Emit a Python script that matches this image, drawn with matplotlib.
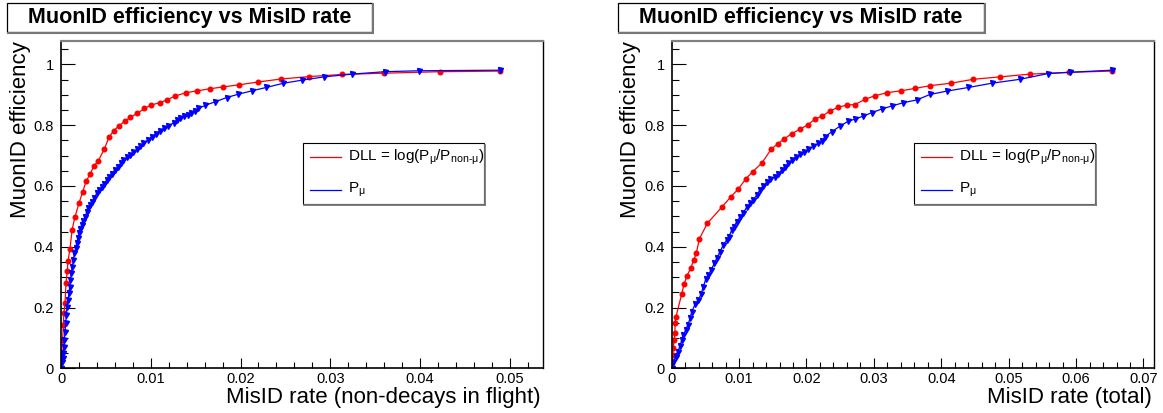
import matplotlib
matplotlib.use("Agg")
import matplotlib.pyplot as plt
from matplotlib.lines import Line2D
from matplotlib.patches import Rectangle
from matplotlib.ticker import MultipleLocator, FuncFormatter

plt.rcParams['font.family'] = ['Liberation Sans', 'DejaVu Sans']
plt.rcParams['mathtext.fontset'] = 'custom'
plt.rcParams['mathtext.rm'] = 'Liberation Sans'
plt.rcParams['mathtext.it'] = 'Liberation Sans'
plt.rcParams['mathtext.default'] = 'regular'

W, H = 1163, 413

# ---- data: non-decays in flight (left panel)
dll_nd_x = [0.0, 0.00008, 0.00019, 0.00026, 0.00033, 0.00045, 0.00056, 0.0007, 0.00078,
            0.001, 0.00123, 0.00156, 0.002, 0.00242, 0.0028, 0.00323, 0.00365, 0.00416,
            0.00483, 0.00535, 0.00587, 0.00647, 0.0071, 0.00773, 0.0085, 0.0093, 0.01,
            0.011, 0.0118, 0.01271, 0.01394, 0.0152, 0.01661, 0.01809, 0.01988, 0.02193,
            0.02453, 0.02768, 0.03133, 0.03593, 0.04225, 0.04894]
dll_nd_y = [0.0, 0.055, 0.093, 0.142, 0.183, 0.214, 0.282, 0.321, 0.354,
            0.393, 0.455, 0.499, 0.543, 0.581, 0.616, 0.638, 0.665, 0.683,
            0.722, 0.76, 0.782, 0.798, 0.813, 0.826, 0.839, 0.855, 0.866,
            0.874, 0.883, 0.896, 0.907, 0.913, 0.92, 0.926, 0.933, 0.942,
            0.952, 0.96, 0.967, 0.971, 0.976, 0.978]

pmu_nd_x = [0.0, 0.0001, 0.0002, 0.00026, 0.00032, 0.00037, 0.00045, 0.00052, 0.0006,
            0.00067, 0.00078, 0.00089, 0.00097, 0.00104, 0.00115, 0.00126, 0.00138,
            0.00149, 0.00162, 0.00175, 0.00188, 0.002, 0.00215, 0.00231, 0.0025,
            0.00268, 0.00286, 0.00305, 0.00327, 0.00349, 0.00373, 0.00398, 0.00426,
            0.00454, 0.00482, 0.0051, 0.00537, 0.00565, 0.00598, 0.00632, 0.00663,
            0.00695, 0.00732, 0.00769, 0.00806, 0.00844, 0.00881, 0.00918, 0.00965,
            0.01011, 0.01055, 0.011, 0.01148, 0.01196, 0.01255, 0.0129, 0.0133,
            0.01371, 0.0141, 0.01446, 0.0149, 0.01531, 0.01605, 0.01717, 0.01847,
            0.01977, 0.02126, 0.02285, 0.02478, 0.02683, 0.02932, 0.03241, 0.03612,
            0.03983, 0.04894]
pmu_nd_y = [0.0, 0.02, 0.035, 0.049, 0.07, 0.093, 0.12, 0.148, 0.175,
            0.203, 0.225, 0.247, 0.268, 0.29, 0.312, 0.334, 0.356,
            0.378, 0.395, 0.411, 0.428, 0.444, 0.458, 0.471, 0.485,
            0.499, 0.513, 0.526, 0.537, 0.548, 0.562, 0.576, 0.587,
            0.597, 0.608, 0.619, 0.63, 0.641, 0.652, 0.663, 0.674,
            0.685, 0.694, 0.702, 0.711, 0.72, 0.73, 0.74, 0.751,
            0.762, 0.772, 0.782, 0.79, 0.797, 0.808, 0.817, 0.823,
            0.83, 0.835, 0.841, 0.848, 0.855, 0.865, 0.877, 0.891,
            0.902, 0.913, 0.924, 0.938, 0.948, 0.959, 0.968, 0.976,
            0.979, 0.981]

# ---- data: total (right panel)
dll_tot_x = [0.0, 0.00009, 0.00012, 0.00024, 0.00034, 0.00049, 0.0005, 0.00064, 0.00148,
             0.00182, 0.00227, 0.00286, 0.00326, 0.00365, 0.00409, 0.00528, 0.00742,
             0.0088, 0.00988, 0.01102, 0.01202, 0.0134, 0.01473, 0.01573, 0.01671,
             0.0178, 0.01904, 0.02018, 0.02126, 0.02234, 0.02349, 0.02472, 0.02596,
             0.0272, 0.02868, 0.03016, 0.03199, 0.03398, 0.0361, 0.03832, 0.04139,
             0.04475, 0.04871, 0.05316, 0.05899, 0.06528]
dll_tot_y = [0.0, 0.018, 0.044, 0.066, 0.093, 0.117, 0.15, 0.17, 0.244,
             0.276, 0.305, 0.331, 0.356, 0.378, 0.425, 0.477, 0.53,
             0.565, 0.59, 0.624, 0.647, 0.676, 0.72, 0.739, 0.755,
             0.772, 0.787, 0.801, 0.82, 0.83, 0.847, 0.859, 0.866,
             0.868, 0.885, 0.897, 0.907, 0.913, 0.921, 0.93, 0.938,
             0.951, 0.959, 0.968, 0.974, 0.978]

pmu_tot_x = [0.0, 0.00024, 0.00059, 0.00089, 0.00123, 0.00148, 0.00172, 0.00208, 0.00237,
             0.00272, 0.00297, 0.00346, 0.00395, 0.00435, 0.00469, 0.00504, 0.00543,
             0.00583, 0.00632, 0.00668, 0.00717, 0.00766, 0.00816, 0.0085, 0.0089,
             0.00924, 0.00964, 0.01013, 0.01062, 0.01113, 0.01162, 0.01211, 0.01261,
             0.0131, 0.01359, 0.0141, 0.01458, 0.01533, 0.01582, 0.01632, 0.01681,
             0.0173, 0.0178, 0.0184, 0.01904, 0.01967, 0.02027, 0.02101, 0.02175,
             0.02234, 0.02274, 0.02374, 0.02497, 0.0262, 0.0272, 0.02843, 0.02967,
             0.03116, 0.03264, 0.03436, 0.03635, 0.03832, 0.0408, 0.04401, 0.04748,
             0.05168, 0.05588, 0.0591, 0.06528]
pmu_tot_y = [0.0, 0.022, 0.038, 0.055, 0.073, 0.093, 0.11, 0.126, 0.142,
             0.164, 0.186, 0.21, 0.225, 0.244, 0.268, 0.293, 0.307,
             0.323, 0.345, 0.362, 0.384, 0.406, 0.422, 0.433, 0.455,
             0.466, 0.482, 0.497, 0.512, 0.53, 0.543, 0.554, 0.57,
             0.587, 0.601, 0.612, 0.622, 0.63, 0.641, 0.652, 0.663,
             0.674, 0.685, 0.696, 0.704, 0.713, 0.721, 0.731, 0.74,
             0.749, 0.762, 0.778, 0.797, 0.813, 0.82, 0.83, 0.841,
             0.853, 0.863, 0.874, 0.883, 0.901, 0.912, 0.924, 0.938,
             0.951, 0.97, 0.974, 0.981]

title = "MuonID efficiency vs MisID rate"
ylabel = "MuonID efficiency"
xlabels = ["MisID rate (non-decays in flight)", "MisID rate (total)"]
leg_labels = [r"DLL = log(P$_{μ}$/P$_{non\text{-}μ}$)", r"P$_{μ}$"]


def fx(px):
    return px / W


def fy(py):
    return 1 - py / H


fig = plt.figure(figsize=(W / 100, H / 100), dpi=100)


def title_box(x0, x1):
    fig.add_artist(Rectangle((fx(x0), fy(32)), fx(x1) - fx(x0), fy(3) - fy(32),
                             transform=fig.transFigure, facecolor='white',
                             edgecolor='black', lw=0.9))
    fig.add_artist(Line2D([fx(x0 + 1), fx(x1)], [fy(32.5), fy(32.5)],
                          transform=fig.transFigure, color='#777777', lw=1.5))
    fig.add_artist(Line2D([fx(x1 + 0.5), fx(x1 + 0.5)], [fy(32.5), fy(4)],
                          transform=fig.transFigure, color='#777777', lw=1.5))
    fig.text(fx((x0 + x1) / 2), fy(18), title, ha='center', va='center',
             fontsize=15.5, fontweight='bold')


def legend_box(x0, x1):
    y0, y1 = 143.5, 204.5
    fig.add_artist(Rectangle((fx(x0), fy(y1)), fx(x1) - fx(x0), fy(y0) - fy(y1),
                             transform=fig.transFigure, facecolor='white',
                             edgecolor='black', lw=0.8, zorder=5))
    fig.add_artist(Line2D([fx(x0 + 1), fx(x1 + 1)], [fy(y1 + 0.8), fy(y1 + 0.8)],
                          transform=fig.transFigure, color='#777777', lw=1.3, zorder=5))
    fig.add_artist(Line2D([fx(x1 + 0.8), fx(x1 + 0.8)], [fy(y1 + 0.8), fy(y0 + 1)],
                          transform=fig.transFigure, color='#777777', lw=1.3, zorder=5))
    for lab, col, yy in zip(leg_labels, ['red', 'blue'], [157, 189.5]):
        fig.add_artist(Line2D([fx(x0 + 7), fx(x0 + 38)], [fy(yy), fy(yy)],
                              transform=fig.transFigure, color=col, lw=0.9, zorder=6))
        fig.text(fx(x0 + 45), fy(yy), lab, ha='left', va='center', fontsize=11, zorder=6)


def panel(rect, dx, dy, px, py, xmax, xlab, ylab_x):
    ax = fig.add_axes(rect)
    ax.plot(dx, dy, color='red', lw=0.9, marker='o', ms=3.3, mec='red', mfc='red')
    ax.plot(px, py, color='blue', lw=0.9, marker='v', ms=3.6, mec='blue', mfc='blue')
    ax.set_xlim(0, xmax)
    ax.set_ylim(0, 1.077)
    ax.xaxis.set_major_locator(MultipleLocator(0.01))
    ax.xaxis.set_minor_locator(MultipleLocator(0.002))
    ax.yaxis.set_major_locator(MultipleLocator(0.2))
    ax.yaxis.set_minor_locator(MultipleLocator(0.05))
    fmt = FuncFormatter(lambda v, p: '%g' % round(v, 4))
    ax.xaxis.set_major_formatter(fmt)
    ax.yaxis.set_major_formatter(fmt)
    ax.tick_params(axis='both', which='both', direction='in', width=0.8,
                   labelsize=10.5, top=False, right=False)
    ax.tick_params(axis='y', which='major', length=10, pad=5)
    ax.tick_params(axis='y', which='minor', length=5)
    ax.tick_params(axis='x', which='major', length=7, pad=3)
    ax.tick_params(axis='x', which='minor', length=4)
    for s in ['left', 'bottom']:
        ax.spines[s].set_linewidth(1.2)
    ax.spines['right'].set_linewidth(1.0)
    ax.spines['top'].set_color('#808080')
    ax.spines['top'].set_linewidth(1.6)
    ax.text(0.995, -0.09, xlab, transform=ax.transAxes, ha='right', va='center',
            fontsize=16)
    ax.text(ylab_x, 1.0, ylabel, transform=ax.transAxes, ha='center', va='top',
            rotation=90, fontsize=16)
    return ax


axh = (368.3 - 41) / H
axb = (H - 368.3) / H
panel([fx(61), axb, fx(543 - 61), axh], dll_nd_x, dll_nd_y, pmu_nd_x, pmu_nd_y,
      0.0537, xlabels[0], -0.085)
panel([fx(671.7), axb, fx(1154 - 671.7), axh], dll_tot_x, dll_tot_y, pmu_tot_x, pmu_tot_y,
      0.07156, xlabels[1], -0.086)

title_box(7, 372)
title_box(618, 984)
legend_box(302.7, 484)
legend_box(914, 1095)

fig.savefig("out.png", dpi=100)
